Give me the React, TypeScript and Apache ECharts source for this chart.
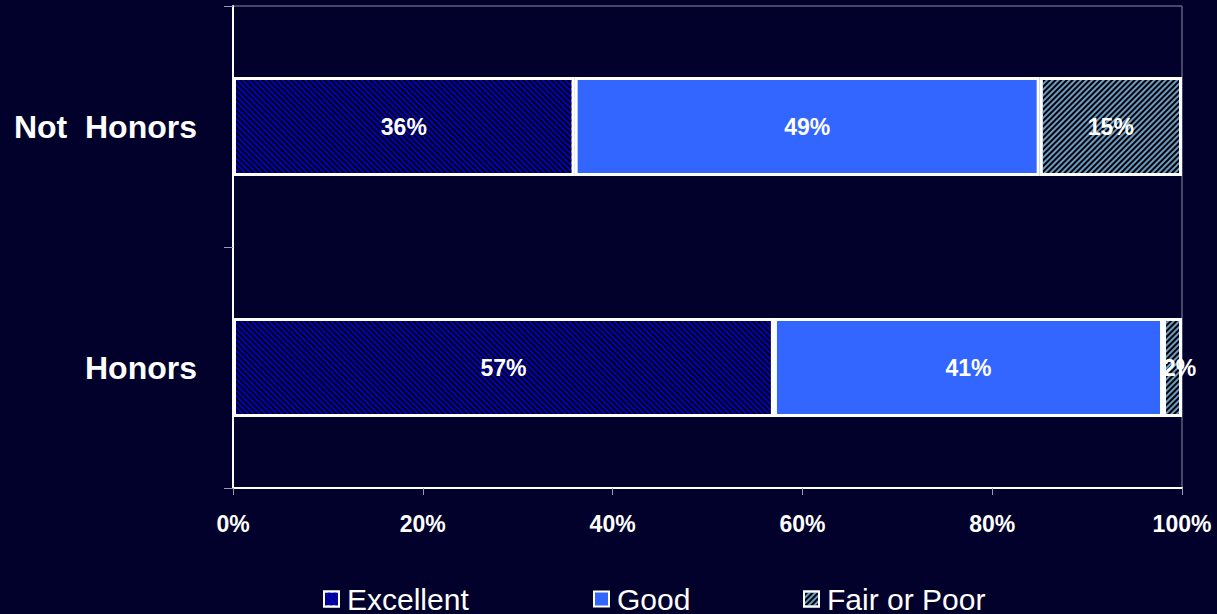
import React, { useEffect, useRef } from 'react';
import * as echarts from 'echarts';

const categories = ['Honors', 'Not  Honors'];
const seriesNames = ['Excellent', 'Good', 'Fair or Poor'];
const excellent = [57, 36];
const good = [41, 49];
const fairPoor = [2, 15];
const xMin = 0;
const xMax = 100;
const xStep = 20;

export default function App() {
  const ref = useRef<HTMLDivElement>(null);
  useEffect(() => {
    if (!ref.current) return;
    const chart = echarts.init(ref.current, null, { renderer: 'svg' });
    const labelStyle = {
      show: true,
      position: 'inside',
      formatter: '{c}%',
      color: '#ffffff',
      fontFamily: 'Arial, Liberation Sans, sans-serif',
      fontWeight: 'bold',
      fontSize: 23,
    };
    const border = { borderColor: '#ffffff', borderWidth: 3 };
    const excellentDecal = {
      symbol: 'rect',
      symbolSize: 1,
      color: '#0000cc',
      dashArrayX: [1, 0],
      dashArrayY: [2, 2],
      rotation: Math.PI / 4,
    };
    const fairDecal = {
      symbol: 'rect',
      symbolSize: 1,
      color: '#6a9cc8',
      dashArrayX: [1, 0],
      dashArrayY: [2, 2],
      rotation: -Math.PI / 4,
    };
    chart.setOption({
      animation: false,
      backgroundColor: '#01012b',
      grid: {
        left: 233,
        right: 35,
        top: 6,
        bottom: 126,
        show: true,
        borderColor: '#8a8aa6',
        borderWidth: 1,
        backgroundColor: 'transparent',
      },
      legend: seriesNames.map((n, i) => ({
        data: [
          {
            name: n,
            itemStyle: {
              color: ['#00006e', '#3366ff', '#000000'][i],
              borderColor: '#ffffff',
              borderWidth: 2,
              decal: [excellentDecal, 'none', fairDecal][i],
            },
          },
        ],
        left: [318, 588, 798][i],
        top: 579,
        icon: 'rect',
        itemWidth: 15,
        itemHeight: 15,
        itemStyle: { borderColor: '#ffffff', borderWidth: 2 },
        textStyle: {
          color: '#ffffff',
          fontFamily: 'Arial, Liberation Sans, sans-serif',
          fontSize: 30,
          padding: [0, 0, 0, 3],
        },
        selectedMode: false,
      })),
      xAxis: {
        type: 'value',
        min: xMin,
        max: xMax,
        interval: xStep,
        axisLine: { show: true, lineStyle: { color: '#ffffff', width: 2 } },
        axisTick: { show: true, length: 7, lineStyle: { color: '#9a9ab0' } },
        splitLine: { show: false },
        axisLabel: {
          formatter: '{value}%',
          color: '#ffffff',
          fontFamily: 'Arial, Liberation Sans, sans-serif',
          fontWeight: 'bold',
          fontSize: 23,
          margin: 24,
        },
      },
      yAxis: {
        type: 'category',
        data: categories,
        axisLine: { show: true, lineStyle: { color: '#ffffff', width: 2 } },
        axisTick: { show: true, length: 9, lineStyle: { color: '#9a9ab0' } },
        axisLabel: {
          color: '#ffffff',
          fontFamily: 'Arial, Liberation Sans, sans-serif',
          fontWeight: 'bold',
          fontSize: 32,
          margin: 36,
        },
      },
      series: [
        {
          name: seriesNames[0],
          type: 'bar',
          stack: 'total',
          barWidth: '41%',
          data: excellent,
          label: labelStyle,
          itemStyle: { color: '#000000', ...border, decal: excellentDecal },
        },
        {
          name: seriesNames[1],
          type: 'bar',
          stack: 'total',
          data: good,
          label: labelStyle,
          itemStyle: { color: '#3366ff', ...border },
        },
        {
          name: seriesNames[2],
          type: 'bar',
          stack: 'total',
          data: fairPoor.map((v) =>
            v < 5 ? { value: v, label: { offset: [7, 0] } } : v
          ),
          label: labelStyle,
          itemStyle: { color: '#000000', ...border, decal: fairDecal },
        },
      ],
    });
    return () => chart.dispose();
  }, []);
  return (
    <div
      ref={ref}
      style={{ position: 'fixed', left: 0, top: 0, width: 1217, height: 614 }}
    />
  );
}
